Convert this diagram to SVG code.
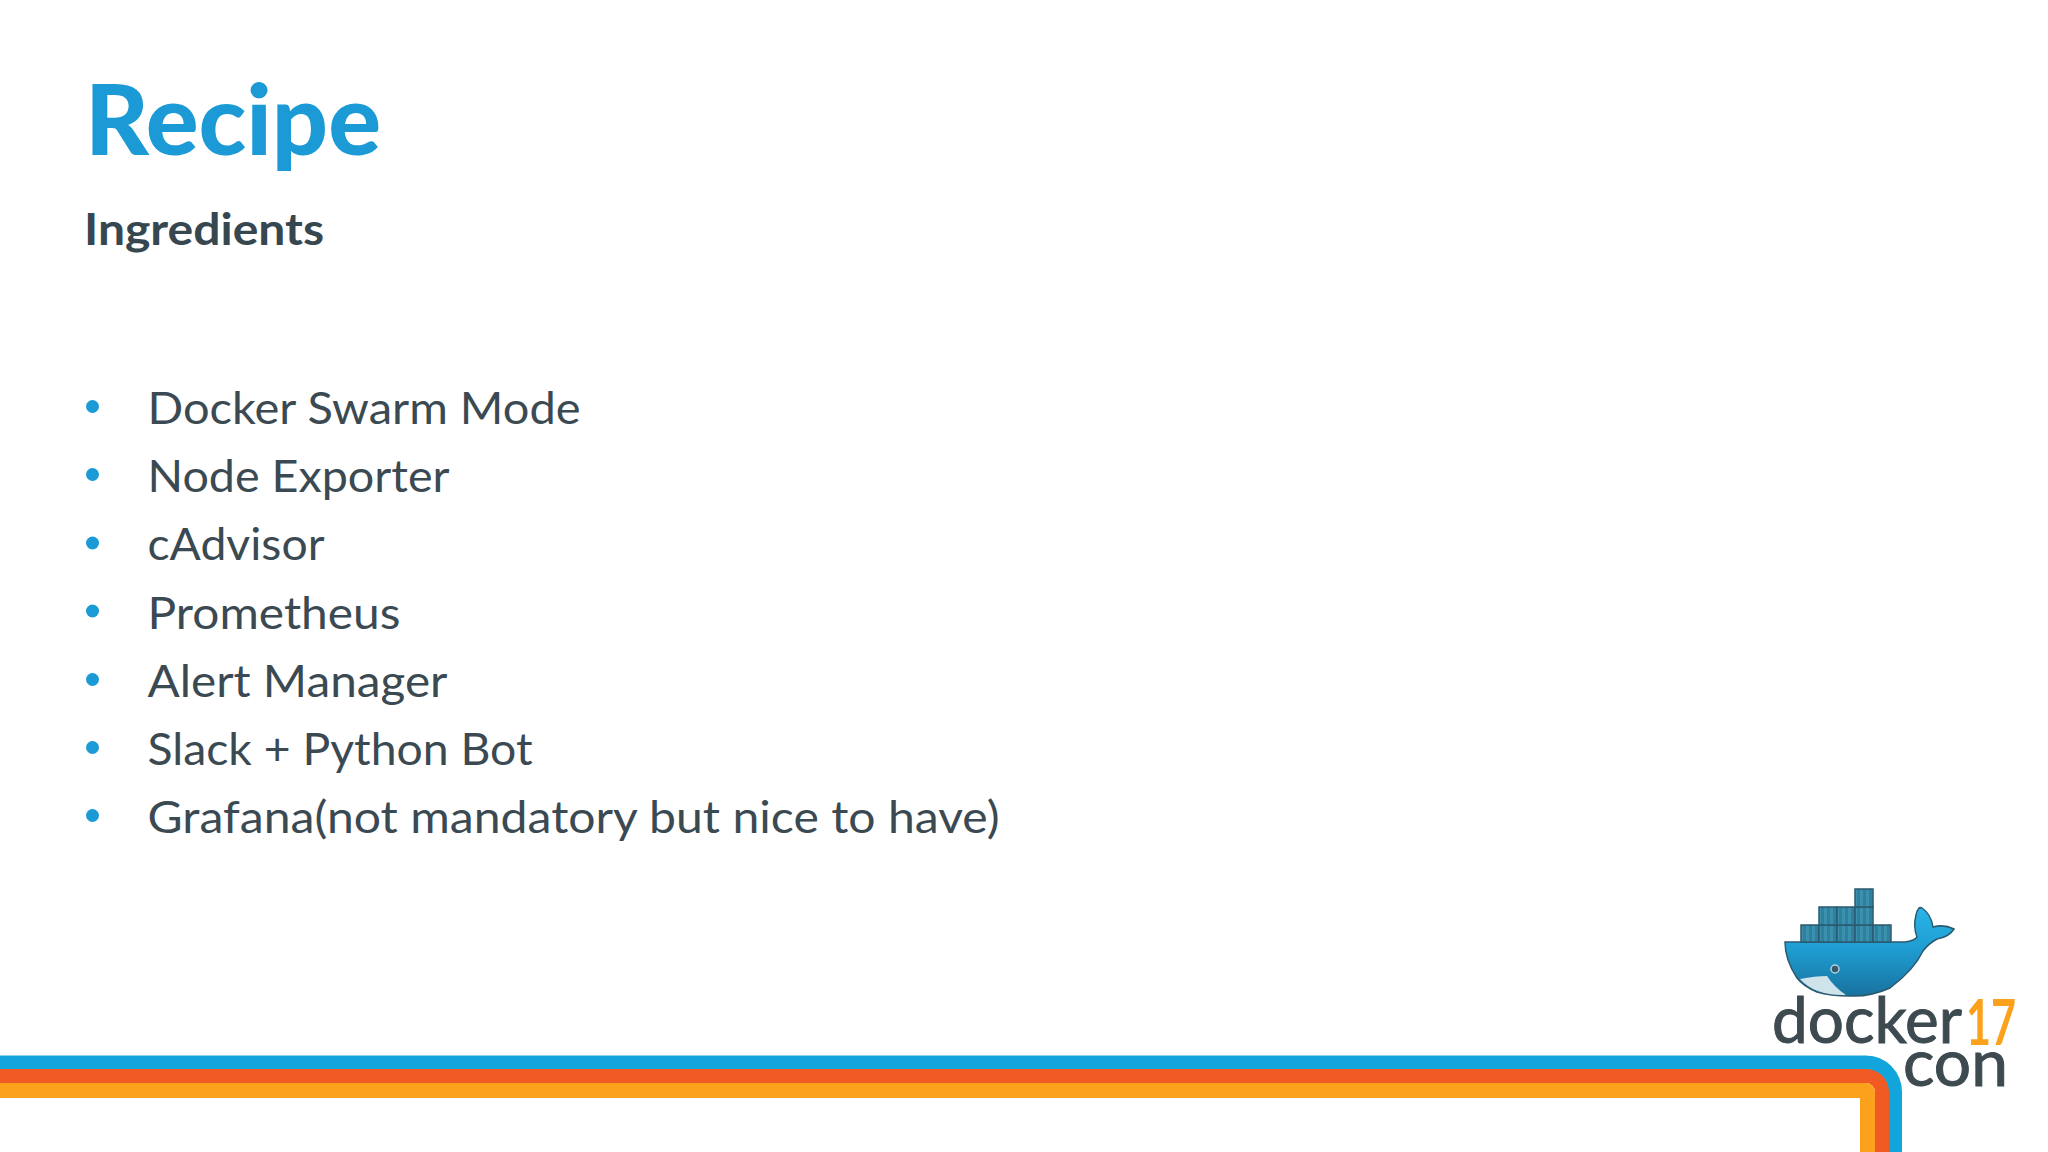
<svg xmlns="http://www.w3.org/2000/svg" width="2048" height="1152" viewBox="0 0 2048 1152">
<style>
text{font-family:"Lato","Open Sans","Liberation Sans",sans-serif}
.b{font-size:44px;fill:#3b4a52}
.d{fill:#1b9ad6}
.c{fill:url(#k);stroke:#2b5a6e;stroke-width:1.5}
.l{font-size:64px;fill:#3d4a50;stroke:#3d4a50;stroke-width:1}
</style>
<defs>
<linearGradient id="h" x1="0" y1="0" x2="0" y2="1"><stop offset="0" stop-color="#2ab4e8"/><stop offset=".45" stop-color="#1f9ed2"/><stop offset="1" stop-color="#18729f"/></linearGradient>
<pattern id="k" width="6" height="18" patternUnits="userSpaceOnUse"><rect width="6" height="18" fill="#2f7f9e"/><rect width="3" height="18" fill="#3a90ad"/></pattern>
</defs>
<rect width="2048" height="1152" fill="#fff"/>
<g id="title"><text x="85" y="155" font-size="97" font-weight="900" fill="#1b9ad6" textLength="296" lengthAdjust="spacingAndGlyphs">Recipe</text>
<text x="84" y="245" font-size="43" font-weight="700" fill="#37474f" textLength="240" lengthAdjust="spacingAndGlyphs">Ingredients</text></g>
<g id="list">
<circle class="d" cx="92.5" cy="406.500" r="6.5"/><text class="b" x="147.500" y="424" textLength="433" lengthAdjust="spacingAndGlyphs">Docker Swarm Mode</text>
<circle class="d" cx="92.5" cy="474.500" r="6.5"/><text class="b" x="147.500" y="492" textLength="302" lengthAdjust="spacingAndGlyphs">Node Exporter</text>
<circle class="d" cx="92.5" cy="543" r="6.5"/><text class="b" x="147.500" y="560" textLength="177" lengthAdjust="spacingAndGlyphs">cAdvisor</text>
<circle class="d" cx="92.5" cy="611" r="6.5"/><text class="b" x="147.500" y="628.500" textLength="253" lengthAdjust="spacingAndGlyphs">Prometheus</text>
<circle class="d" cx="92.5" cy="679.500" r="6.5"/><text class="b" x="147.500" y="697" textLength="300" lengthAdjust="spacingAndGlyphs">Alert Manager</text>
<circle class="d" cx="92.5" cy="747.500" r="6.5"/><text class="b" x="147.500" y="765" textLength="385" lengthAdjust="spacingAndGlyphs">Slack + Python Bot</text>
<circle class="d" cx="92.5" cy="815.500" r="6.5"/><text class="b" x="147.500" y="833" textLength="852" lengthAdjust="spacingAndGlyphs">Grafana(not mandatory but nice to have)</text>
</g>
<g id="stripes" fill="none">
<path d="M0 1062.500H1866A29 29.500 0 0 1 1895 1092V1152" stroke="#12a5dc" stroke-width="14"/>
<path d="M0 1076H1866A16 16 0 0 1 1882 1092V1152" stroke="#f15a22" stroke-width="14"/>
<path d="M0 1090.500H1866A1.500 1.500 0 0 1 1867.500 1092V1152" stroke="#fba11c" stroke-width="15"/>
</g>
<g id="logo">
<path d="M1785 942H1905Q1914 941 1917 937Q1913 927 1916 915Q1918 906 1922 908Q1931 914 1933 927Q1944 924 1954 929Q1949 937 1937 939Q1928 944 1923 951Q1914 970 1890 988Q1870 997 1850 996Q1830 996 1817 992Q1803 986 1797 978Q1785 960 1785 942Z" fill="url(#h)" stroke="#2b5a6e" stroke-width="1.500"/>
<path d="M1800 979Q1815 976 1827 976Q1834 987 1846 995Q1815 996 1800 979Z" fill="#cfe3ea"/>
<circle cx="1835" cy="969" r="4" fill="#3c5868" stroke="#a9d5e6" stroke-width="1.500"/>
<rect class="c" x="1801" y="925" width="18" height="17"/><rect class="c" x="1819" y="925" width="18" height="17"/><rect class="c" x="1837" y="925" width="18" height="17"/><rect class="c" x="1855" y="925" width="18" height="17"/><rect class="c" x="1873" y="925" width="18" height="17"/>
<rect class="c" x="1819" y="907" width="18" height="18"/><rect class="c" x="1837" y="907" width="18" height="18"/><rect class="c" x="1855" y="907" width="18" height="18"/>
<rect class="c" x="1855" y="889" width="18" height="18"/>
<text class="l" x="1772" y="1043" textLength="190" lengthAdjust="spacingAndGlyphs">docker</text>
<text x="1966" y="1045" font-size="64" font-weight="700" fill="#fba11c" textLength="50" lengthAdjust="spacingAndGlyphs">17</text>
<text class="l" x="1903" y="1086" textLength="105" lengthAdjust="spacingAndGlyphs">con</text>
</g>
</svg>
